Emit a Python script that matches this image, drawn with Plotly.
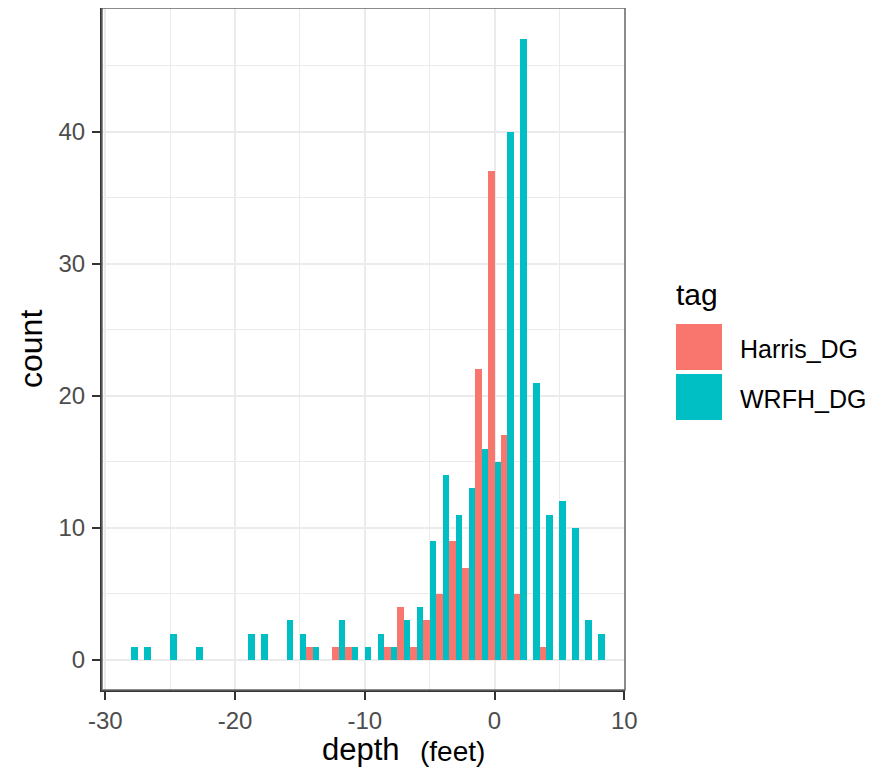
import plotly.graph_objects as go

# histogram bins (centres, width 1 foot) and counts per tag
depth_bins = list(range(-28, 9))
harris_counts = [0, 0, 0, 0, 0, 0, 0, 0, 0, 0, 0, 0, 0, 0, 1, 0, 1, 1, 0, 0, 1, 4, 1, 3, 5, 9, 7, 22, 37, 17, 5, 0, 1, 0, 0, 0, 0]
wrfh_counts = [1, 1, 0, 2, 0, 1, 0, 0, 0, 2, 2, 0, 3, 2, 1, 0, 3, 1, 1, 2, 1, 3, 4, 9, 14, 11, 13, 16, 15, 40, 47, 21, 11, 12, 10, 3, 2]
tags = ['Harris_DG', 'WRFH_DG']
colors = ['#F8766D', '#00BFC4']

x_ticks = [-30, -20, -10, 0, 10]
x_labels = ['-30', '-20', '-10', '0', '10']
y_ticks = [0, 10, 20, 30, 40]

FONT = 'Liberation Sans, Arial, sans-serif'

# page body has an 8px margin, so the figure is made 8px smaller
W, H = 878, 766
OFF = 8

fig = go.Figure()

for tag, counts, color in zip(tags, [harris_counts, wrfh_counts], colors):
    fig.add_trace(go.Bar(
        x=depth_bins,
        y=counts,
        name=tag,
        marker=dict(color=color, line=dict(width=0)),
        showlegend=False,
    ))

# panel border (theme_bw)
fig.add_shape(type='rect', xref='paper', yref='paper', x0=0, y0=0, x1=1, y1=1,
              line=dict(color='#666666', width=1.5), layer='above')

# page-pixel -> paper helpers (panel spans 102..625 x 8..690 on the page)
def px_x(p):
    return (p - 102) / 523

def px_y(p):
    return (690 - p) / 682

# legend drawn by hand to get ggplot-style big keys
fig.add_annotation(x=px_x(674), y=px_y(294), xref='paper', yref='paper', text='tag',
                   showarrow=False, xanchor='left', yanchor='middle',
                   font=dict(family=FONT, size=30, color='black'))
key_tops = [324, 374]
for tag, color, top in zip(tags, colors, key_tops):
    fig.add_shape(type='rect', xref='paper', yref='paper',
                  x0=px_x(676), x1=px_x(722), y0=px_y(top), y1=px_y(top + 46),
                  fillcolor=color, line=dict(width=0))
    fig.add_annotation(x=px_x(738), y=px_y(top + 25), xref='paper', yref='paper', text=tag,
                       showarrow=False, xanchor='left', yanchor='middle',
                       font=dict(family=FONT, size=25, color='black'))

# axis titles
fig.add_annotation(x=px_x(31), y=0.5, xref='paper', yref='paper', text='count',
                   showarrow=False, textangle=-90, xanchor='center', yanchor='middle',
                   font=dict(family=FONT, size=32, color='black'))
fig.add_annotation(x=px_x(361), y=px_y(749), xref='paper', yref='paper', text='depth',
                   showarrow=False, xanchor='center', yanchor='middle',
                   font=dict(family=FONT, size=31, color='black'))
fig.add_annotation(x=px_x(452), y=px_y(751), xref='paper', yref='paper', text='(feet)',
                   showarrow=False, xanchor='center', yanchor='middle',
                   font=dict(family=FONT, size=28, color='black'))

fig.update_layout(
    width=W,
    height=H,
    margin=dict(l=102 - OFF, r=W - (625 - OFF), t=0, b=H - (690 - OFF)),
    barmode='group',
    bargap=0,
    bargroupgap=0,
    plot_bgcolor='white',
    paper_bgcolor='white',
    font=dict(family=FONT),
)

fig.update_xaxes(
    range=[-30.26, 10.06],
    tickvals=x_ticks,
    ticktext=x_labels,
    ticks='outside', ticklen=8, tickwidth=2, tickcolor='#333333',
    tickfont=dict(size=24, color='#4d4d4d'),
    showline=True, linecolor='#333333', linewidth=2,
    showgrid=True, gridcolor='#ebebeb', gridwidth=2,
    minor=dict(dtick=5, tick0=-25, showgrid=True, gridcolor='#ebebeb', gridwidth=1),
    zeroline=False,
    automargin=False,
)
fig.update_yaxes(
    range=[-2.27, 49.35],
    tickvals=y_ticks,
    ticks='outside', ticklen=8, tickwidth=2, tickcolor='#333333',
    tickfont=dict(size=24, color='#4d4d4d'),
    ticklabelstandoff=2,
    showline=True, linecolor='#333333', linewidth=2,
    showgrid=True, gridcolor='#ebebeb', gridwidth=2,
    minor=dict(dtick=5, tick0=5, showgrid=True, gridcolor='#ebebeb', gridwidth=1),
    zeroline=False,
    automargin=False,
)

fig.write_html("out.html")
